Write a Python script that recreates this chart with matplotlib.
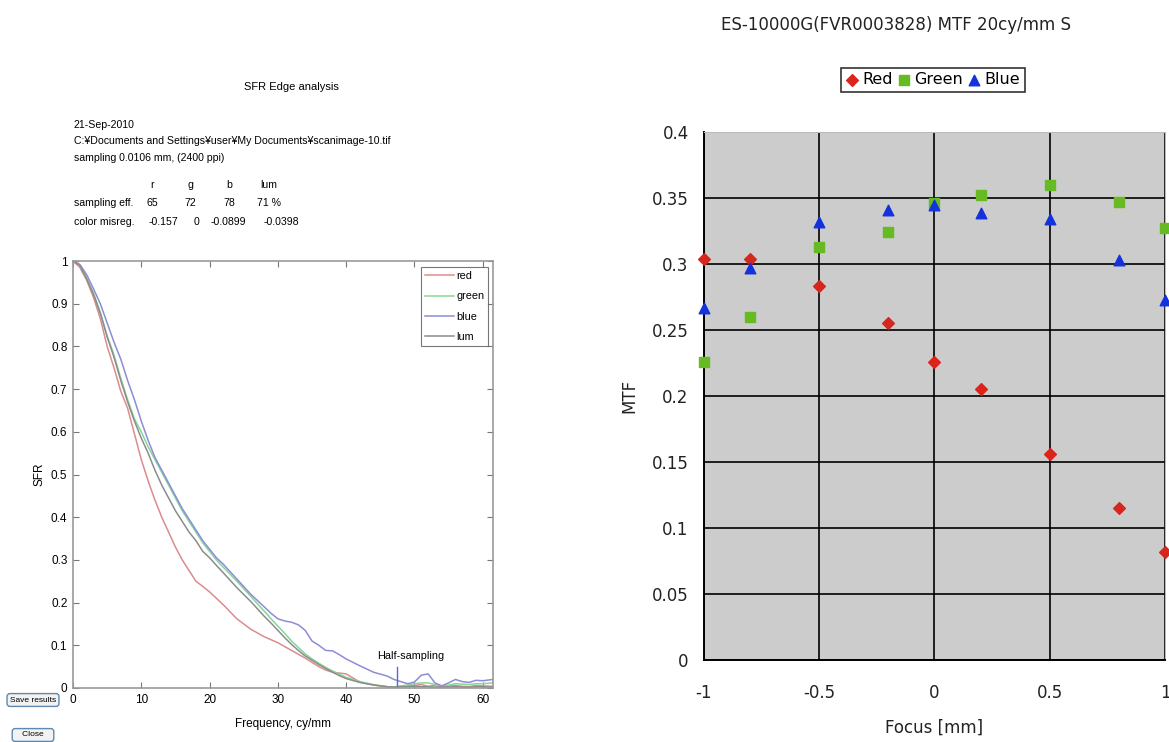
import matplotlib
matplotlib.use("Agg")
import matplotlib.pyplot as plt
from matplotlib.ticker import FuncFormatter

plt.rcParams['axes.unicode_minus'] = False

# ---- left panel: SFR edge analysis ----
freq = [0, 1, 2, 3, 4, 5, 6, 7, 8, 9, 10, 11, 12, 13, 14, 15, 16, 17, 18, 19, 20, 21, 22,
        24, 26, 28, 29, 30, 31, 32, 33, 34, 35, 36, 37, 38, 39, 40, 42, 44, 46,
        47, 48, 49, 50, 51, 52, 53, 54, 55, 56, 57, 58, 59, 60, 61.5]
sfr_red = [1.0, 0.985, 0.955, 0.915, 0.865, 0.80, 0.75, 0.695, 0.655, 0.595, 0.535, 0.485,
           0.44, 0.40, 0.365, 0.33, 0.30, 0.275, 0.25, 0.238, 0.225, 0.21, 0.195, 0.162,
           0.138, 0.12, 0.113, 0.106, 0.097, 0.088, 0.079, 0.07, 0.06, 0.05, 0.042, 0.037,
           0.035, 0.033, 0.014, 0.007, 0.003, 0.002, 0.004, 0.005, 0.006, 0.008, 0.004,
           0.006, 0.003, 0.004, 0.006, 0.004, 0.003, 0.006, 0.005, 0.004]
sfr_green = [1.0, 0.99, 0.96, 0.925, 0.88, 0.825, 0.78, 0.725, 0.675, 0.63, 0.60, 0.565,
             0.535, 0.505, 0.475, 0.445, 0.415, 0.39, 0.365, 0.34, 0.32, 0.30, 0.283, 0.25,
             0.215, 0.18, 0.162, 0.145, 0.128, 0.11, 0.095, 0.08, 0.068, 0.058, 0.048, 0.04,
             0.032, 0.025, 0.015, 0.008, 0.003, 0.002, 0.005, 0.007, 0.01, 0.012, 0.012,
             0.008, 0.005, 0.007, 0.01, 0.009, 0.008, 0.01, 0.01, 0.012]
sfr_blue = [1.0, 0.992, 0.968, 0.935, 0.90, 0.855, 0.81, 0.77, 0.72, 0.675, 0.625, 0.58,
            0.54, 0.51, 0.48, 0.45, 0.42, 0.395, 0.37, 0.345, 0.325, 0.305, 0.29, 0.255,
            0.22, 0.19, 0.175, 0.162, 0.157, 0.154, 0.148, 0.135, 0.11, 0.10, 0.088, 0.087,
            0.078, 0.068, 0.052, 0.037, 0.028, 0.02, 0.015, 0.01, 0.014, 0.03, 0.033,
            0.012, 0.005, 0.012, 0.02, 0.015, 0.013, 0.018, 0.017, 0.02]
sfr_lum = [1.0, 0.99, 0.958, 0.922, 0.877, 0.822, 0.775, 0.72, 0.67, 0.625, 0.585, 0.55,
           0.51, 0.475, 0.445, 0.415, 0.39, 0.365, 0.345, 0.32, 0.305, 0.287, 0.27, 0.235,
           0.203, 0.168, 0.152, 0.135, 0.118, 0.102, 0.088, 0.075, 0.065, 0.055, 0.046,
           0.037, 0.029, 0.022, 0.013, 0.007, 0.003, 0.002, 0.003, 0.003, 0.004, 0.003,
           0.003, 0.002, 0.002, 0.003, 0.003, 0.002, 0.002, 0.003, 0.003, 0.002]
half_sampling = 47.5

info_lines = ["21-Sep-2010",
              "C:\u00a5Documents and Settings\u00a5user\u00a5My Documents\u00a5scanimage-10.tif",
              "sampling 0.0106 mm, (2400 ppi)"]
col_heads = ["r", "g", "b", "lum"]
samp_eff = ["65", "72", "78", "71 %"]
misreg = ["-0.157", "0", "-0.0899", "-0.0398"]

# ---- right panel: MTF vs focus ----
focus = [-1, -0.8, -0.5, -0.2, 0, 0.2, 0.5, 0.8, 1]
mtf_red = [0.304, 0.304, 0.283, 0.255, 0.226, 0.205, 0.156, 0.115, 0.082]
mtf_green = [0.226, 0.260, 0.313, 0.324, 0.346, 0.352, 0.360, 0.347, 0.327]
mtf_blue = [0.267, 0.297, 0.332, 0.341, 0.345, 0.339, 0.334, 0.303, 0.273]

narrow = 'Liberation Sans'
W, H = 1169, 742
fig = plt.figure(figsize=(W / 100, H / 100), dpi=100)


def fx(px):
    return px / W


def fy(py):
    return 1 - py / H


# left axes
ax1 = fig.add_axes([fx(73), fy(688), 420 / W, 427 / H])
ax1.plot(freq, sfr_red, color='#dc8c8c', lw=1.1, label='red')
ax1.plot(freq, sfr_green, color='#84d896', lw=1.1, label='green')
ax1.plot(freq, sfr_blue, color='#8c8cd8', lw=1.1, label='blue')
ax1.plot(freq, sfr_lum, color='#8c8c8c', lw=1.1, label='lum')
ax1.plot([half_sampling, half_sampling], [0, 0.05], color='#5a6ad0', lw=1)
ax1.text(half_sampling + 1.9, 0.075, 'Half-sampling', ha='center', va='center',
         fontsize=7.8, family=narrow)
ax1.set_xlim(0, 61.5)
ax1.set_ylim(0, 1)
ax1.set_xticks(range(0, 61, 10))
ax1.set_yticks([i / 10 for i in range(11)])
ax1.yaxis.set_major_formatter(FuncFormatter(lambda v, p: '%g' % v))
ax1.tick_params(direction='in', top=True, right=True, length=4, width=0.8,
                color='#777777', labelsize=8.5, pad=4)
for lab in ax1.get_xticklabels() + ax1.get_yticklabels():
    lab.set_family(narrow)
for sp in ax1.spines.values():
    sp.set_color('#999999')
    sp.set_linewidth(1.2)
ax1.set_xlabel('Frequency, cy/mm', fontsize=8.5, family=narrow, labelpad=9)
ax1.set_ylabel('SFR', fontsize=8.5, family=narrow, labelpad=4)
leg1 = ax1.legend(loc='upper right', bbox_to_anchor=(0.988, 0.985),
                  frameon=True, fancybox=False, handlelength=2.7, handletextpad=0.2,
                  borderpad=0.35, labelspacing=0.95, borderaxespad=0,
                  prop={'family': narrow, 'size': 7.8})
leg1.get_frame().set_edgecolor('#555555')
leg1.get_frame().set_linewidth(0.8)

fig.text(fx(291), fy(87), 'SFR Edge analysis', ha='center', va='center',
         fontsize=8, family=narrow)
for i, line in enumerate(info_lines):
    fig.text(fx(74), fy(125 + i * 16.5), line, ha='left', va='center',
             fontsize=7.6, family=narrow)
col_x = [152, 190, 229, 269]
fig.text(fx(74), fy(203), 'sampling eff.', ha='left', va='center', fontsize=7.6, family=narrow)
fig.text(fx(74), fy(222), 'color misreg.', ha='left', va='center', fontsize=7.6, family=narrow)
for cx, h, s in zip(col_x, col_heads, samp_eff):
    fig.text(fx(cx), fy(185), h, ha='center', va='center', fontsize=7.6, family=narrow)
    fig.text(fx(cx), fy(203), s, ha='center', va='center', fontsize=7.6, family=narrow)
misreg_x = [163, 196, 228, 281]
for cx, m in zip(misreg_x, misreg):
    fig.text(fx(cx), fy(222), m, ha='center', va='center', fontsize=7.6, family=narrow)

btn = dict(boxstyle='round,pad=0.35', fc='#f2f2f2', ec='#5f88b0', lw=1)
fig.text(fx(33), fy(700), 'Save results', ha='center', va='center', fontsize=6,
         family=narrow, bbox=btn)
fig.text(fx(33), fy(735), '   Close   ', ha='center', va='center', fontsize=6,
         family=narrow, bbox=btn)

# right axes
ax2 = fig.add_axes([fx(704), fy(660), 461 / W, 528 / H])
ax2.set_facecolor('#cccccc')
ax2.scatter(focus, mtf_red, marker='D', s=36, color='#d9261c', label='Red',
            zorder=3, clip_on=False)
ax2.scatter(focus, mtf_green, marker='s', s=46, color='#66bb22', label='Green',
            zorder=3, clip_on=False)
ax2.scatter(focus, mtf_blue, marker='^', s=58, color='#1432dc', label='Blue',
            zorder=3, clip_on=False)
ax2.set_xlim(-1, 1)
ax2.set_ylim(0, 0.4)
ax2.set_xticks([-1, -0.5, 0, 0.5, 1])
ax2.set_yticks([i * 0.05 for i in range(9)])
ax2.xaxis.set_major_formatter(FuncFormatter(lambda v, p: '%g' % v))
ax2.yaxis.set_major_formatter(FuncFormatter(lambda v, p: '%g' % round(v, 2)))
ax2.grid(True, color='black', lw=1.2)
ax2.set_axisbelow(True)
ax2.tick_params(length=0, labelsize=12, colors='#222222')
ax2.tick_params(axis='x', pad=17)
ax2.tick_params(axis='y', pad=11)
ax2.spines['left'].set_color('black')
ax2.spines['bottom'].set_color('black')
ax2.spines['left'].set_linewidth(1.4)
ax2.spines['bottom'].set_linewidth(1.4)
ax2.spines['top'].set_color('#bbbbbb')
ax2.spines['right'].set_color('#bbbbbb')
ax2.set_xlabel('Focus [mm]', fontsize=12, labelpad=12, color='#222222')
ax2.set_ylabel('MTF', fontsize=12, labelpad=10, color='#222222')
fig.text(fx(896), fy(25), 'ES-10000G(FVR0003828) MTF 20cy/mm S', ha='center',
         va='center', fontsize=12, color='#222222')
leg2 = ax2.legend(loc='center', bbox_to_anchor=(fx(933), fy(80)),
                  bbox_transform=fig.transFigure, ncol=3, fontsize=11.5, frameon=True,
                  fancybox=False, handlelength=0.8, handletextpad=0.25,
                  columnspacing=0.3, borderpad=0.3, borderaxespad=0)
leg2.get_frame().set_edgecolor('black')
leg2.get_frame().set_linewidth(1.2)

fig.savefig('out.png', dpi=100)
